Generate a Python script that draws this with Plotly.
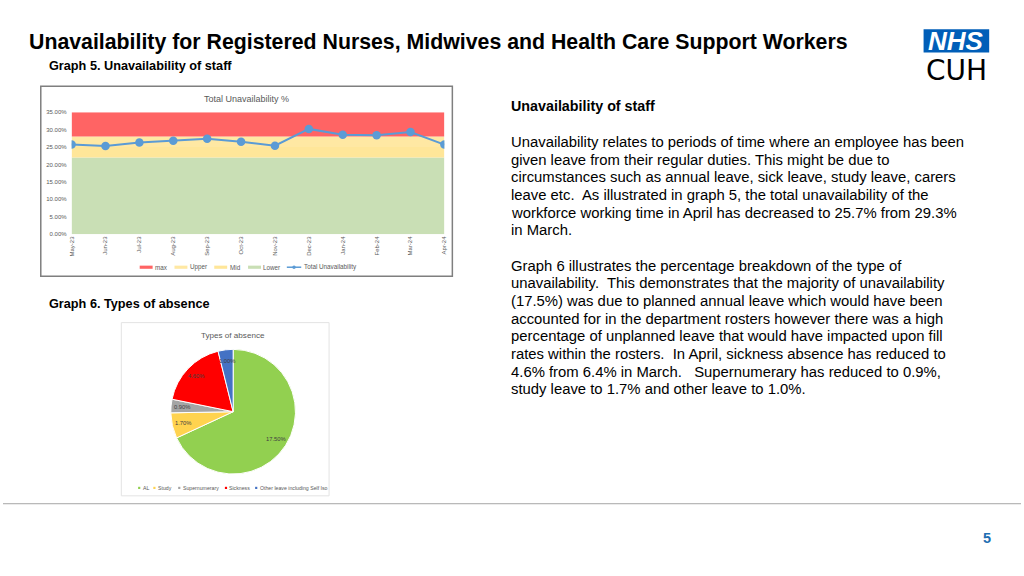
import math
import plotly.graph_objects as go

W, H = 1024, 576

# ---------------- data ----------------
months = ["May-23", "Jun-23", "Jul-23", "Aug-23", "Sep-23", "Oct-23",
          "Nov-23", "Dec-23", "Jan-24", "Feb-24", "Mar-24", "Apr-24"]
total_unavail = [25.7, 25.3, 26.3, 26.8, 27.4, 26.5, 25.4, 30.2, 28.5, 28.4, 29.3, 25.7]
band_lower = [22] * 12
band_mid = [3] * 12
band_upper = [3] * 12
band_max = [7] * 12
y_ticks = [0, 5, 10, 15, 20, 25, 30, 35]

absence_labels = ["AL", "Study", "Supernumerary", "Sickness", "Other leave including Self Iso"]
absence_values = [17.5, 1.7, 0.9, 4.6, 1.0]
absence_text = ["17.50%", "1.70%", "0.90%", "4.60%", "1.00%"]

# ---------------- helpers ----------------
def px(x):
    return x / W

def py(y):
    return 1 - y / H

FONT = "Liberation Sans"
GREY = "#595959"

annotations = []

def txt(x, y, text, size, color="black", xa="left", ya="middle", family=FONT, height=None):
    a = dict(x=px(x), y=py(y), xref="paper", yref="paper", text=text,
             xanchor=xa, yanchor=ya, showarrow=False,
             font=dict(family=family, size=size, color=color))
    if height:
        a["height"] = height
    annotations.append(a)

fig = go.Figure()

band_colors = {"Lower": "#C9DFB5", "Mid": "#FFE699", "Upper": "#FFE8A3", "max": "#FF6464"}
for name, vals in [("Lower", band_lower), ("Mid", band_mid), ("Upper", band_upper), ("max", band_max)]:
    fig.add_trace(go.Scatter(
        x=months, y=vals, name=name, mode="none", stackgroup="bands",
        fillcolor=band_colors[name], hoverinfo="skip", showlegend=False))

fig.add_trace(go.Scatter(
    x=months, y=total_unavail, name="Total Unavailability", mode="lines+markers",
    line=dict(color="#5B9BD5", width=2), marker=dict(color="#5B9BD5", size=8.5),
    showlegend=False))

pie_colors = ["#92D050", "#FFD34F", "#A5A5A5", "#FF0000", "#4472C4"]
fig.add_trace(go.Pie(
    labels=absence_labels, values=absence_values, sort=False, direction="clockwise",
    rotation=0, textinfo="none", showlegend=False,
    marker=dict(colors=pie_colors, line=dict(color="white", width=1)),
    domain=dict(x=[px(168.5), px(294.5)], y=[py(476), py(350)])))

# pie labels positioned from data (inside end, ~0.82 R)
cx, cy, R = 231.5, 413.0, 63.0
tot = sum(absence_values)
cum = 0.0
for v, t in zip(absence_values, absence_text):
    mid = (cum + v / 2) / tot * 2 * math.pi
    cum += v
    r = 0.82 * R
    txt(cx + r * math.sin(mid), cy - r * math.cos(mid), t, 5.8, "#404040", xa="center")

shapes = []
# Graph 5 frame
shapes.append(dict(type="rect", xref="paper", yref="paper", x0=px(38), x1=px(452), y0=py(276), y1=py(84),
                   line=dict(color="#7F7F7F", width=1.5), fillcolor="rgba(0,0,0,0)", layer="below"))
# Graph 6 frame
shapes.append(dict(type="rect", xref="paper", yref="paper", x0=px(119), x1=px(328), y0=py(498), y1=py(323),
                   line=dict(color="#E3E3E3", width=1), fillcolor="rgba(0,0,0,0)", layer="below"))
# footer line
shapes.append(dict(type="line", xref="paper", yref="paper", x0=0, x1=1, y0=py(506), y1=py(506),
                   line=dict(color="#A6A6A6", width=1)))
# NHS logo box
shapes.append(dict(type="rect", xref="paper", yref="paper", x0=px(926), x1=px(992), y0=py(50), y1=py(26.5),
                   line=dict(width=0), fillcolor="#005EB8"))

# Graph 5 legend (manual)
leg_y = 267
for name, x0, x1, tx in [("max", 137.5, 150.5, 151), ("Upper", 172.5, 185.5, 186),
                         ("Mid", 212.5, 225.5, 226), ("Lower", 246.5, 259.5, 260)]:
    shapes.append(dict(type="rect", xref="paper", yref="paper", x0=px(x0), x1=px(x1),
                       y0=py(leg_y + 1.6), y1=py(leg_y - 1.6), line=dict(width=0),
                       fillcolor=band_colors[name]))
    txt(tx, leg_y, name, 6.3, GREY)
shapes.append(dict(type="line", xref="paper", yref="paper", x0=px(285.5), x1=px(300), y0=py(leg_y), y1=py(leg_y),
                   line=dict(color="#5B9BD5", width=1.5)))
shapes.append(dict(type="circle", xref="paper", yref="paper", x0=px(291), x1=px(294.5),
                   y0=py(leg_y + 1.75), y1=py(leg_y - 1.75), line=dict(width=0), fillcolor="#5B9BD5"))
txt(300.5, leg_y, "Total Unavailability", 6.3, GREY)

# Graph 6 legend (manual)
leg2_y = 490
for lab, col, mx in zip(absence_labels, pie_colors, [137, 152.3, 177.3, 224.3, 254.7]):
    shapes.append(dict(type="rect", xref="paper", yref="paper", x0=px(mx - 1.1), x1=px(mx + 1.1),
                       y0=py(leg2_y + 1.1), y1=py(leg2_y - 1.1), line=dict(width=0), fillcolor=col))
    txt(mx + 1.5, leg2_y, lab, 5.2, GREY)

# chart titles
txt(245, 97, "Total Unavailability %", 9, GREY, xa="center")
txt(231.5, 336, "Types of absence", 8.1, GREY, xa="center")

# slide texts
txt(24, 39.5, "<b>Unavailability for Registered Nurses, Midwives and Health Care Support Workers</b>", 21.3)
txt(44, 64, "<b>Graph 5. Unavailability of staff</b>", 12.7)
txt(44, 304.5, "<b>Graph 6. Types of absence</b>", 12.7)
txt(508.5, 104, "<b>Unavailability of staff</b>", 14.3)

para1 = ["Unavailability relates to periods of time where an employee has been",
         "given leave from their regular duties. This might be due to",
         "circumstances such as annual leave, sick leave, study leave, carers",
         "leave etc.  As illustrated in graph 5, the total unavailability of the",
         "workforce working time in April has decreased to 25.7% from 29.3%",
         "in March."]
para2 = ["Graph 6 illustrates the percentage breakdown of the type of",
         "unavailability.  This demonstrates that the majority of unavailability",
         "(17.5%) was due to planned annual leave which would have been",
         "accounted for in the department rosters however there was a high",
         "percentage of unplanned leave that would have impacted upon fill",
         "rates within the rosters.  In April, sickness absence has reduced to",
         "4.6% from 6.4% in March.   Supernumerary has reduced to 0.9%,",
         "study leave to 1.7% and other leave to 1.0%."]
for lines, y0 in [(para1, 140.5), (para2, 265.5)]:
    for i, ln in enumerate(lines):
        txt(508.5, y0 + i * 17.85, ln, 14.85)

# logo text
txt(959, 38.5, "<b><i>NHS</i></b>", 26, "white", xa="center", height=22)
txt(959, 67.5, "CUH", 28, "black", xa="center", family="DejaVu Sans", height=28)
# page number
txt(990, 541, "<b>5</b>", 14.5, "#1F6FB2", xa="center")

fig.update_layout(
    width=W, height=H, margin=dict(l=0, r=0, t=0, b=0),
    paper_bgcolor="white", plot_bgcolor="white",
    xaxis=dict(domain=[px(69), px(444)], type="category", range=[0, 11], showgrid=False,
               zeroline=False, showline=False, tickangle=-90, ticks="",
               tickfont=dict(family=FONT, size=6, color=GREY)),
    yaxis=dict(domain=[py(233.7), py(110.3)], range=[0, 35], tickvals=y_ticks,
               ticktext=[f"{v:.2f}%" for v in y_ticks], showgrid=False, zeroline=False,
               showline=False, ticks="", ticklabelstandoff=4,
               tickfont=dict(family=FONT, size=6, color=GREY)),
    shapes=shapes, annotations=annotations, showlegend=False,
)

css = ("var s=[document.documentElement, document.body];"
       "s.forEach(function(e){e.style.margin='0';e.style.padding='0';e.style.overflow='hidden';});")
fig.write_html("out.html", config={"displayModeBar": False}, post_script=css)
